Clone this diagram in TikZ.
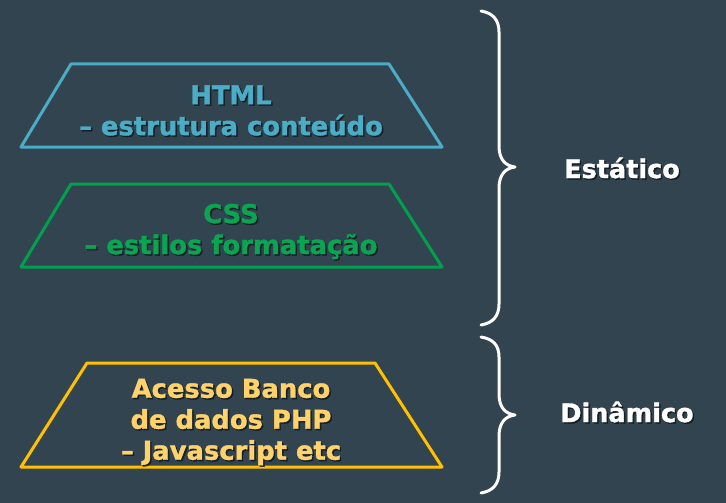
\documentclass[tikz,border=0pt]{standalone}
\usepackage{fontspec}
\setmainfont{DejaVu Sans}
\newfontfamily\heavy[FakeBold=1.4]{DejaVu Sans Bold}
\definecolor{bg}{HTML}{31444F}
\definecolor{cblue}{HTML}{4BACC6}
\definecolor{cgreen}{HTML}{00A04E}
\definecolor{cgreentext}{HTML}{0AA552}
\definecolor{cyellow}{HTML}{FFC000}
\definecolor{cyellowtext}{HTML}{FFD26A}
\definecolor{shade}{HTML}{121A20}
\begin{document}
\begin{tikzpicture}[x=1pt,y=-1pt,
  layer/.style={line width=3pt, line join=round},
  lbl/.style={font=\fontsize{25.8}{31}\heavy, align=center, inner sep=0pt},
  shd/.style={lbl, text=shade, opacity=0.85},
  brace/.style={draw=white, line width=3pt, line cap=round, line join=round},
  side/.style={font=\fontsize{25.5}{30}\heavy, inner sep=0pt}]
\fill[bg] (0,0) rectangle (726,503);
\useasboundingbox (0,0) rectangle (726,503);
% layers
\draw[layer, cblue] (71,64) -- (389,64) -- (442,147) -- (21,147) -- cycle;
\draw[layer, cgreen] (71,184) -- (389,184) -- (442,267) -- (21,267) -- cycle;
\draw[layer, cyellow] (87,363) -- (375,363) -- (442,467) -- (21,467) -- cycle;
% labels
\node[shd] (htmls) at (232.5,112) {HTML\\– estrutura conteúdo};
\node[lbl, text=cblue] (html) at (231,110.5) {HTML\\– estrutura conteúdo};
\node[shd] (csss) at (232.5,233) {CSS\\– estilos formatação};
\node[lbl, text=cgreentext] (css) at (231,231.5) {CSS\\– estilos formatação};
\node[shd] (dyns) at (232.5,423.5) {Acesso Banco\\de dados PHP\\– Javascript etc};
\node[lbl, text=cyellowtext] (dyn) at (231,422) {Acesso Banco\\de dados PHP\\– Javascript etc};
% braces
\coordinate (b1top) at (481,11);
\coordinate (b1tip) at (515,167);
\coordinate (b1bot) at (481,325);
\draw[brace] (b1top) .. controls (493,13) and (499,20) .. (499,32)
  -- (499,146) .. controls (499,160) and (506,166) .. (b1tip)
  .. controls (506,168) and (499,174) .. (499,188)
  -- (499,304) .. controls (499,316) and (493,323) .. (b1bot);
\coordinate (b2top) at (481,337);
\coordinate (b2tip) at (515,415);
\coordinate (b2bot) at (481,493);
\draw[brace] (b2top) .. controls (493,339) and (499,345) .. (499,357)
  -- (499,394) .. controls (499,408) and (506,414) .. (b2tip)
  .. controls (506,416) and (499,422) .. (499,436)
  -- (499,472) .. controls (499,484) and (493,491) .. (b2bot);
\node[side, text=shade, opacity=0.85] (estshd) at (623.5,169.5) {Estático};
\node[side, text=white] (est) at (622,168) {Estático};
\node[side, text=shade, opacity=0.85] (dinshd) at (628.5,413.5) {Dinâmico};
\node[side, text=white] (din) at (627,412) {Dinâmico};
\end{tikzpicture}
\end{document}
